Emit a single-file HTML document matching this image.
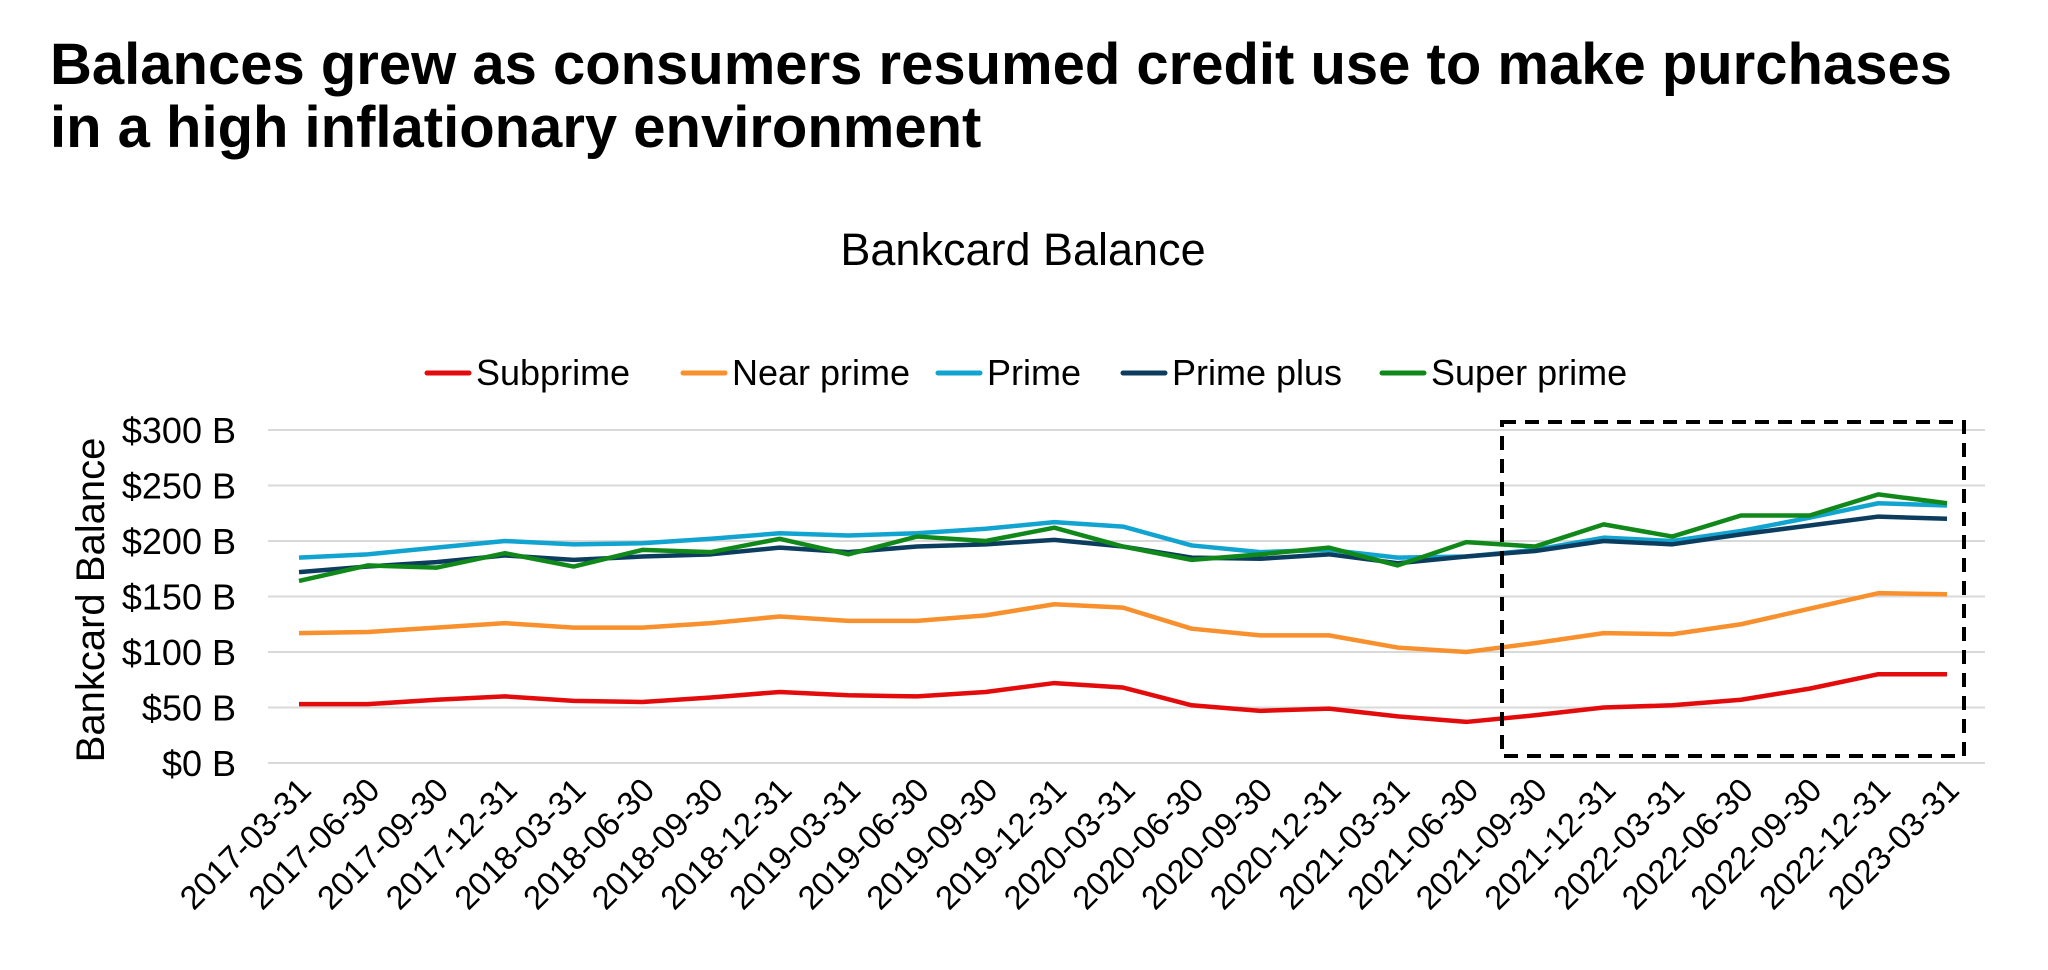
<!DOCTYPE html>
<html><head><meta charset="utf-8"><style>
body{margin:0;background:#fff;width:2048px;height:970px;overflow:hidden;font-family:"Liberation Sans",Arial,sans-serif}
svg{position:absolute;left:0;top:0}
</style></head><body>
<svg width="2048" height="970" id="c">
<text x="50" y="84" font-size="58" font-weight="bold">Balances grew as consumers resumed credit use to make purchases</text>
<text x="50" y="147" font-size="58" font-weight="bold">in a high inflationary environment</text>
<text x="1023" y="265" font-size="45" text-anchor="middle">Bankcard Balance</text>
<text transform="translate(104,600) rotate(-90)" font-size="40" text-anchor="middle">Bankcard Balance</text>
<g id="grid"></g><g id="lines"></g><g id="xl"></g><g id="leg"></g>
<rect x="1502" y="422" width="462" height="334" fill="none" stroke="#000" stroke-width="4" stroke-dasharray="14,9"/>
</svg>
<script>
const categories=["2017-03-31","2017-06-30","2017-09-30","2017-12-31","2018-03-31","2018-06-30","2018-09-30","2018-12-31","2019-03-31","2019-06-30","2019-09-30","2019-12-31","2020-03-31","2020-06-30","2020-09-30","2020-12-31","2021-03-31","2021-06-30","2021-09-30","2021-12-31","2022-03-31","2022-06-30","2022-09-30","2022-12-31","2023-03-31"];
const subprime=[53,53,57,60,56,55,59,64,61,60,64,72,68,52,47,49,42,37,43,50,52,57,67,80,80];
const nearPrime=[117,118,122,126,122,122,126,132,128,128,133,143,140,121,115,115,104,100,108,117,116,125,139,153,152];
const prime=[185,188,194,200,197,198,202,207,205,207,211,217,213,196,190,192,185,186,192,203,200,209,221,234,232];
const primePlus=[172,177,181,187,183,186,188,194,190,195,197,201,195,185,184,188,180,186,191,200,197,206,214,222,220];
const superPrime=[164,178,176,189,177,192,190,202,188,204,200,212,195,183,188,194,178,199,195,215,204,223,223,242,234];
const yTicks=[0,50,100,150,200,250,300];
const seriesNames=["Subprime","Near prime","Prime","Prime plus","Super prime"];
const NS="http://www.w3.org/2000/svg";
const y=v=>763-v*(333/300);
const x=i=>299+i*((1947-299)/(categories.length-1));
function mk(t,a,p){const e=document.createElementNS(NS,t);for(const k in a)e.setAttribute(k,a[k]);p.appendChild(e);return e;}
const grid=document.getElementById('grid');
yTicks.forEach(v=>{
 const l=mk('line',{x1:268,x2:1985,y1:y(v),y2:y(v),stroke:'#d9d9d9','stroke-width':2},grid);
 
 
 const t=mk('text',{x:236,y:y(v)+13,'font-size':36,'text-anchor':'end'},grid);
 t.textContent='$'+v+' B';
 
 
});
const xl=document.getElementById('xl');
categories.forEach((c,i)=>{
 const t=mk('text',{transform:`translate(${x(i)+14},${792}) rotate(-45)`,'font-size':33,'text-anchor':'end'},xl);
 t.textContent=c;
 
 
});
const series=[subprime,nearPrime,prime,primePlus,superPrime];
const colors=["#e30b0b","#f7902d","#12a4d0","#0c3d5f","#10891a"];
const lines=document.getElementById('lines');
series.forEach((s,k)=>{
 const p=mk('polyline',{points:s.map((v,i)=>x(i)+','+y(v)).join(' '),fill:'none',stroke:colors[k],'stroke-width':4.5,'stroke-linejoin':'round'},lines);
 
 
});
const leg=document.getElementById('leg');
const lx=[427,683,938,1123,1382];
seriesNames.forEach((n,k)=>{
 const g=mk('g',{},leg);
 
 
 mk('line',{x1:lx[k],x2:lx[k]+42,y1:373,y2:373,stroke:colors[k],'stroke-width':5,'stroke-linecap':'round'},g);
 const t=mk('text',{x:lx[k]+49,y:385,'font-size':36},g);
 t.textContent=n;
});
</script>
</body></html>
